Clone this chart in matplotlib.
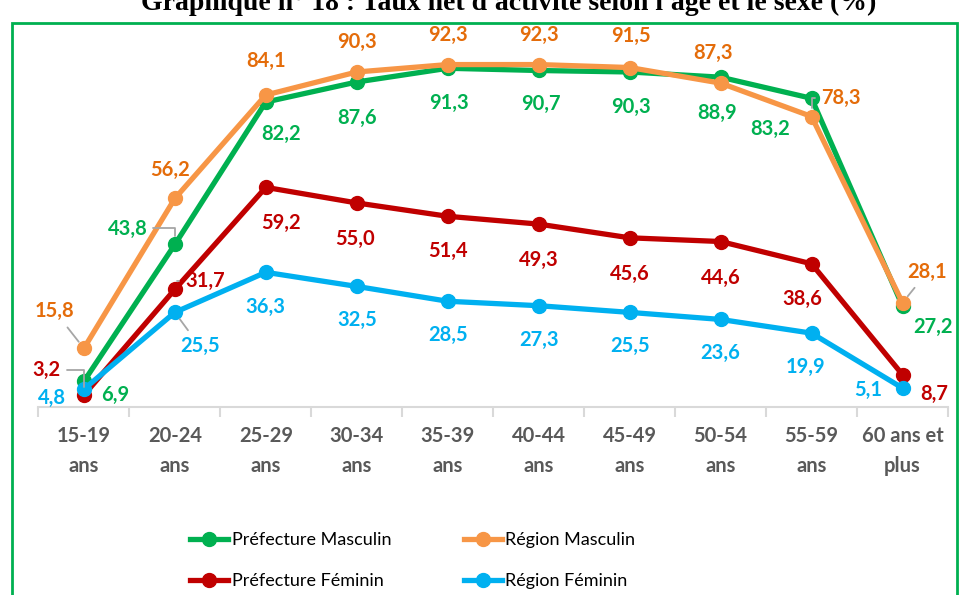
import matplotlib
matplotlib.use("Agg")
import matplotlib.pyplot as plt
from matplotlib.patches import Rectangle

# categories and values (%)
ages = ["15-19\nans", "20-24\nans", "25-29\nans", "30-34\nans", "35-39\nans",
        "40-44\nans", "45-49\nans", "50-54\nans", "55-59\nans", "60 ans et\nplus"]
pref_masc = [6.9, 43.8, 82.2, 87.6, 91.3, 90.7, 90.3, 88.9, 83.2, 27.2]
reg_masc = [15.8, 56.2, 84.1, 90.3, 92.3, 92.3, 91.5, 87.3, 78.3, 28.1]
pref_fem = [3.2, 31.7, 59.2, 55.0, 51.4, 49.3, 45.6, 44.6, 38.6, 8.7]
reg_fem = [4.8, 25.5, 36.3, 32.5, 28.5, 27.3, 25.5, 23.6, 19.9, 5.1]

# label offsets in pixels (dx, dy up)
off_pm = [(31, -14), (-47, 16), (15, -32), (0, -36), (1, -35), (2, -33), (1, -35), (-4, -36), (-41, -31), (30, -21)]
off_rm = [(-29, 37), (-5, 29), (0, 34), (0, 30), (0, 30), (0, 30), (1, 32), (-8, 30), (29, 19), (25, 31)]
off_pf = [(-37, 25), (30, 8), (15, -36), (-2, -36), (0, -35), (0, -36), (0, -36), (0, -36), (-9, -35), (32, -19)]
off_rf = [(-32, -9), (25, -34), (0, -35), (0, -34), (0, -34), (0, -34), (0, -34), (0, -34), (-6, -34), (-34, -2)]

# leader lines: straight ones and elbow ones
straight = [("rm", 0), ("rf", 1), ("rm", 9)]
elbow = [("pf", 0), ("pm", 1), ("pf", 1), ("rm", 8)]

plt.rcParams['font.family'] = ['Lato', 'DejaVu Sans']

fig = plt.figure(figsize=(9.6, 5.95), dpi=100)
ax = fig.add_axes([0.040, 0.316, 0.9475, 0.6235])

x = list(range(len(ages)))
series = [
    ("pm", "Préfecture Masculin", pref_masc, "#00B050", "#00B050", off_pm),
    ("rm", "Région Masculin", reg_masc, "#F79646", "#E46C0A", off_rm),
    ("pf", "Préfecture Féminin", pref_fem, "#C00000", "#C00000", off_pf),
    ("rf", "Région Féminin", reg_fem, "#00B0F0", "#00B0F0", off_rf),
]

handles = {}
for key, name, vals, col, tcol, offs in series:
    h, = ax.plot(x, vals, color=col, lw=3.8, marker="o", ms=10, label=name,
                 solid_joinstyle="round", zorder=3)
    handles[key] = h
    for i, v in enumerate(vals):
        txt = ("%.1f" % v).replace(".", ",")
        ap = None
        if (key, i) in straight:
            ap = dict(arrowstyle="-", color="#A6A6A6", lw=1.3, shrinkA=3, shrinkB=6)
        elif (key, i) in elbow:
            ap = dict(arrowstyle="-", color="#A6A6A6", lw=1.3, shrinkA=2, shrinkB=6,
                      connectionstyle="angle,angleA=0,angleB=90,rad=0")
        ax.annotate(txt, (i, v), xytext=offs[i], textcoords="offset pixels",
                    ha="center", va="center", fontsize=14.5, fontweight="bold",
                    color=tcol, arrowprops=ap, zorder=4)

ax.set_xlim(-0.5, len(ages) - 0.5)
ax.set_ylim(0, 100)
ax.set_yticks([])
for s in ["top", "right", "left"]:
    ax.spines[s].set_visible(False)
ax.spines["bottom"].set_color("#D9D9D9")
ax.spines["bottom"].set_linewidth(1.5)
ax.set_xticks(x)
ax.set_xticklabels(ages, fontsize=14.5, fontweight="bold", color="#595959", linespacing=1.6)
ax.tick_params(axis="x", length=0, pad=14)
ax.set_xticks([i - 0.5 for i in range(len(ages) + 1)], minor=True)
ax.tick_params(axis="x", which="minor", length=7, width=1.5, color="#D9D9D9")

leg = fig.legend([handles["pm"], handles["pf"], handles["rm"], handles["rf"]],
                 ["Préfecture Masculin", "Préfecture Féminin", "Région Masculin", "Région Féminin"],
                 ncol=2, loc="center", bbox_to_anchor=(0.43, 0.058), frameon=False,
                 fontsize=13, handlelength=2.1, handletextpad=0.2, columnspacing=4.0,
                 labelspacing=1.4)

# green frame and cut-off title
fig.patches.append(Rectangle((12 / 960, -0.05), 945 / 960, 1 - 23 / 595 + 0.05,
                             transform=fig.transFigure, fill=False,
                             edgecolor="#00B050", lw=2))
fig.text(0.53, 1 - 10 / 595, "Graphique n° 18 : Taux net d'activité selon l'âge et le sexe (%)",
         ha="center", va="baseline", fontsize=20, fontweight="bold",
         family="Liberation Serif")

fig.savefig("out.png", dpi=100)
